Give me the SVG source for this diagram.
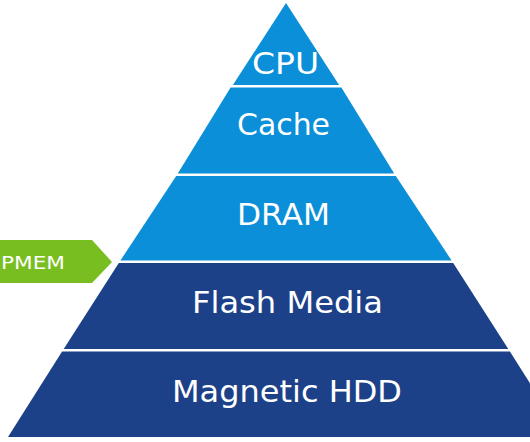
<svg xmlns="http://www.w3.org/2000/svg" width="530" height="442" viewBox="0 0 530 442">
  <style>
    .light { fill: #0a8fd8; }
    .dark { fill: #1c4188; }
    .lbl { font-family: "DejaVu Sans", "Liberation Sans", sans-serif; font-size: 30px; fill: #ffffff; text-anchor: middle; }
    .tag { font-family: "DejaVu Sans", "Liberation Sans", sans-serif; font-size: 18px; fill: #ffffff; }
  </style>
  <rect width="530" height="442" fill="#ffffff"/>
  <g id="cpu">
    <polygon class="light" points="286,3 339.1,85 232.9,85"/>
    <text class="lbl" x="285.5" y="74" textLength="67" lengthAdjust="spacingAndGlyphs">CPU</text>
  </g>
  <g id="cache">
    <polygon class="light" points="230.6,87.5 341.4,87.5 394.2,173.5 177.8,173.5"/>
    <text class="lbl" x="283.5" y="135" textLength="93" lengthAdjust="spacingAndGlyphs">Cache</text>
  </g>
  <g id="dram">
    <polygon class="light" points="176.2,176 395.8,176 451.6,260.5 120.4,260.5"/>
    <text class="lbl" x="283.5" y="225" textLength="93" lengthAdjust="spacingAndGlyphs">DRAM</text>
  </g>
  <g id="flash">
    <polygon class="dark" points="118.8,263 453.2,263 508.3,349 63.7,349"/>
    <text class="lbl" x="287.5" y="313" textLength="191" lengthAdjust="spacingAndGlyphs">Flash Media</text>
  </g>
  <g id="hdd">
    <polygon class="dark" points="62.1,351.5 509.9,351.5 564,437 8,437"/>
    <text class="lbl" x="287" y="402" textLength="230" lengthAdjust="spacingAndGlyphs">Magnetic HDD</text>
  </g>
  <g id="pmem">
    <polygon fill="#78be20" points="0,240 92,240 112,262 92,283 0,283"/>
    <text class="tag" x="1" y="269" textLength="64" lengthAdjust="spacingAndGlyphs">PMEM</text>
  </g>
  <g id="connectors"/>
</svg>
